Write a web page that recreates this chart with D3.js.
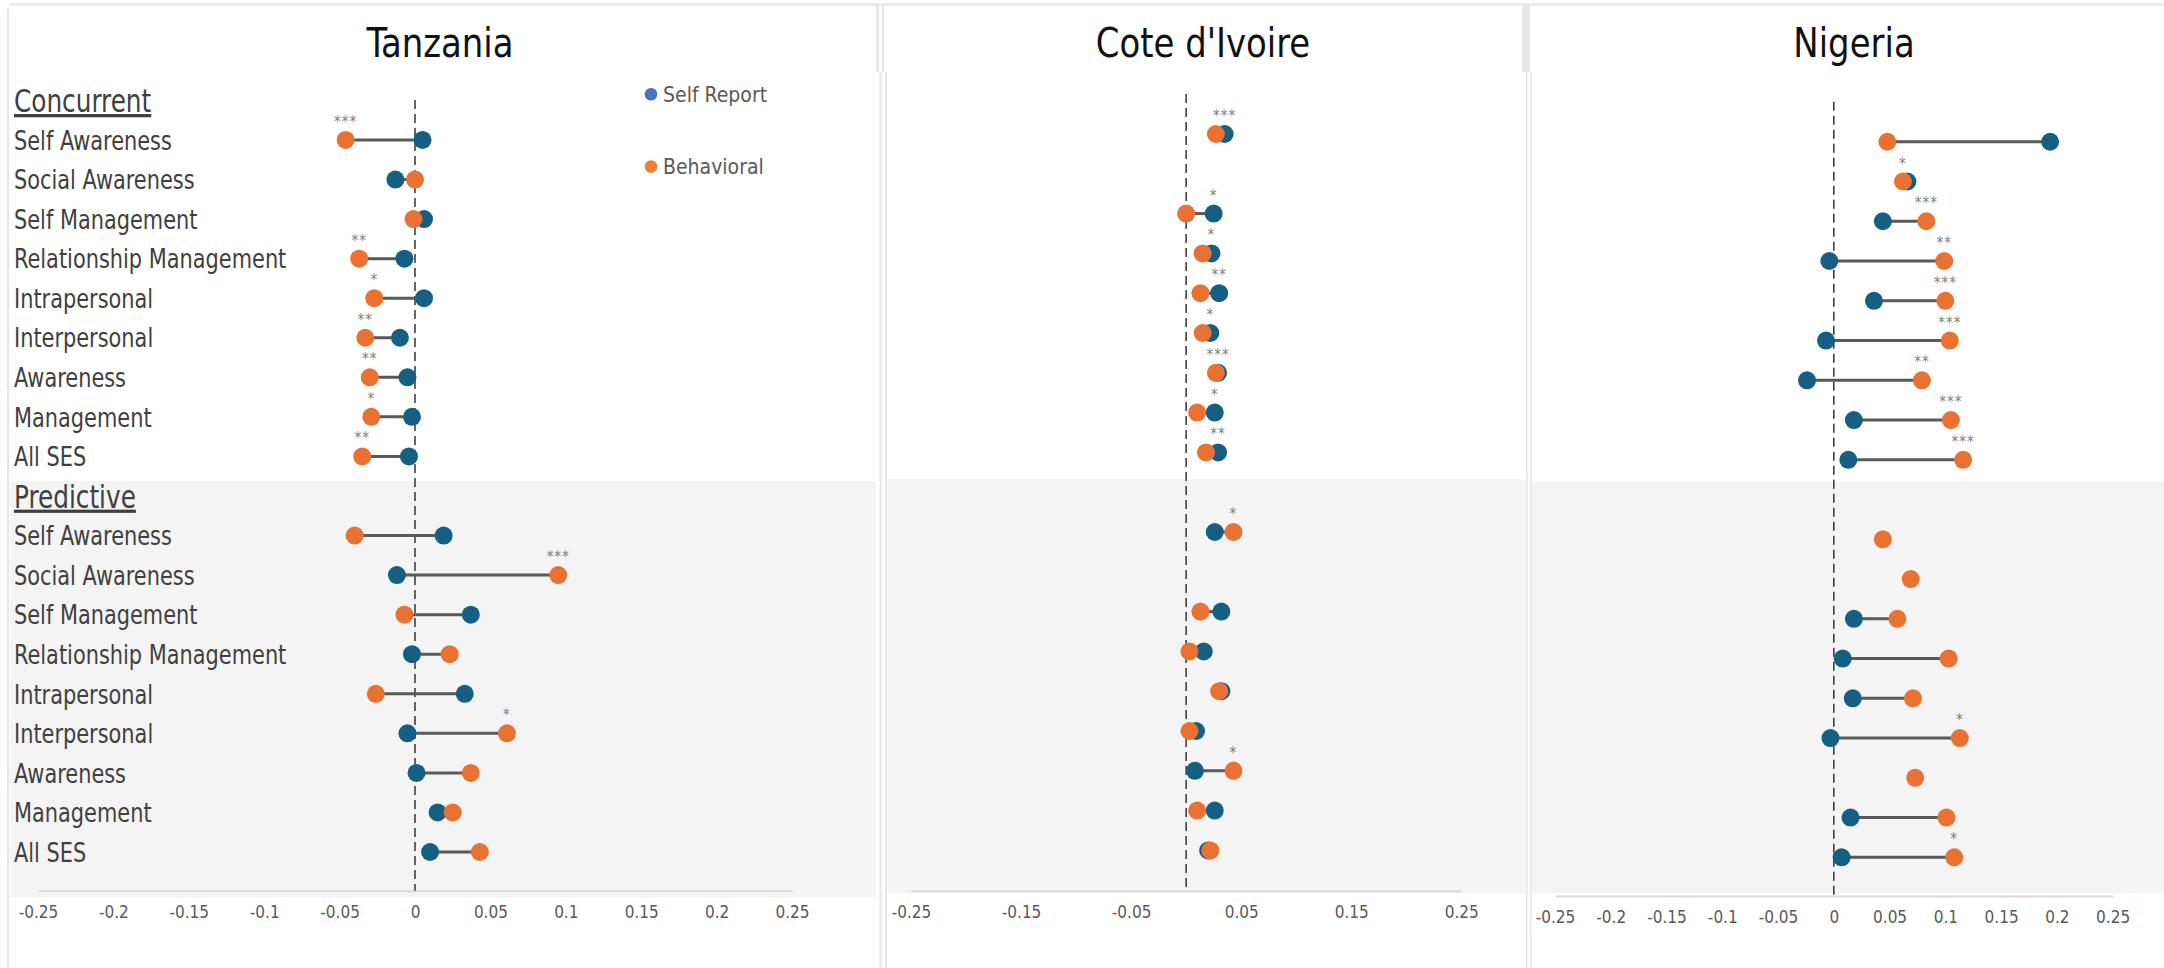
<!DOCTYPE html>
<html>
<head>
<meta charset="utf-8">
<script src="https://cdn.jsdelivr.net/npm/d3@7"></script>
<style>
  html, body { margin: 0; padding: 0; background: #ffffff; }
  svg { display: block; }
  text { font-family: "Liberation Sans Narrow", "DejaVu Sans Condensed", "Liberation Sans", sans-serif; }
</style>
</head>
<body>
<svg id="chart" width="2164" height="968"></svg>
<script>
// ---- data -------------------------------------------------------------
const countries = ["Tanzania", "Cote d'Ivoire", "Nigeria"];
const sections = ["Concurrent", "Predictive"];
const categories = [
  "Self Awareness", "Social Awareness", "Self Management",
  "Relationship Management", "Intrapersonal", "Interpersonal",
  "Awareness", "Management", "All SES"
];
const seriesNames = ["Self Report", "Behavioral"];

// Tanzania
const tzConcSelf  = [0.005, -0.013, 0.006, -0.007, 0.006, -0.010, -0.005, -0.002, -0.004];
const tzConcBeh   = [-0.046, 0.000, -0.001, -0.037, -0.027, -0.033, -0.030, -0.029, -0.035];
const tzConcStars = ["***", "", "", "**", "*", "**", "**", "*", "**"];
const tzPredSelf  = [0.019, -0.012, 0.037, -0.002, 0.033, -0.005, 0.001, 0.015, 0.010];
const tzPredBeh   = [-0.040, 0.095, -0.007, 0.023, -0.026, 0.061, 0.037, 0.025, 0.043];
const tzPredStars = ["", "***", "", "", "", "*", "", "", ""];

// Cote d'Ivoire
const ciConcSelf  = [0.035, null, 0.025, 0.023, 0.030, 0.022, 0.029, 0.026, 0.029];
const ciConcBeh   = [0.027, null, 0.000, 0.015, 0.013, 0.015, 0.027, 0.010, 0.018];
const ciConcStars = ["***", "", "*", "*", "**", "*", "***", "*", "**"];
const ciPredSelf  = [0.026, null, 0.032, 0.016, 0.032, 0.009, 0.008, 0.026, 0.020];
const ciPredBeh   = [0.043, null, 0.013, 0.003, 0.030, 0.003, 0.043, 0.010, 0.022];
const ciPredStars = ["*", "", "", "", "", "", "*", "", ""];

// Nigeria
const ngConcSelf  = [0.194, 0.066, 0.044, -0.004, 0.036, -0.007, -0.024, 0.018, 0.013];
const ngConcBeh   = [0.048, 0.062, 0.083, 0.099, 0.100, 0.104, 0.079, 0.105, 0.116];
const ngConcStars = ["", "*", "***", "**", "***", "***", "**", "***", "***"];
const ngPredSelf  = [null, null, 0.018, 0.008, 0.017, -0.003, null, 0.015, 0.007];
const ngPredBeh   = [0.044, 0.069, 0.057, 0.103, 0.071, 0.113, 0.073, 0.101, 0.108];
const ngPredStars = ["", "", "", "", "", "*", "", "", "*"];

// which dot the significance stars sit above, per country and section
const starAnchor = [["beh", "beh"], ["self", "beh"], ["beh", "beh"]];

const ticksFine   = [-0.25, -0.2, -0.15, -0.1, -0.05, 0, 0.05, 0.1, 0.15, 0.2, 0.25];
const ticksCoarse = [-0.25, -0.15, -0.05, 0.05, 0.15, 0.25];

// ---- assemble rows ----------------------------------------------------
const tables = [
  [[tzConcSelf, tzConcBeh, tzConcStars], [tzPredSelf, tzPredBeh, tzPredStars]],
  [[ciConcSelf, ciConcBeh, ciConcStars], [ciPredSelf, ciPredBeh, ciPredStars]],
  [[ngConcSelf, ngConcBeh, ngConcStars], [ngPredSelf, ngPredBeh, ngPredStars]]
];

// panel geometry
const panels = [
  { xr: [38, 792],    slots: [100.4, 852],  zeroTop: 100, axisY: 890.7, band: [10, 481, 876, 897],
    ticks: ticksFine, titleX: 440, labels: true },
  { xr: [911, 1461.3], slots: [94.2, 850.4], zeroTop: 94, axisY: 890.7, band: [887.5, 479.3, 1526, 893.3],
    ticks: ticksCoarse, titleX: 1203, labels: false },
  { xr: [1555, 2112.6], slots: [102, 857.3], zeroTop: 101.7, axisY: 896, band: [1531, 481.7, 2164, 893.3],
    ticks: ticksFine, titleX: 1854, labels: false }
];

const COL_SELF = "#156082", COL_BEH = "#E97132";
const LEG_SELF = "#4472C4", LEG_BEH = "#ED7D31";
const BORDER = "#e6e6e6";
const SQUEEZE = 0.86;   // horizontal compression applied to label text

const svg = d3.select("#chart");

// slot keys: section header, then its nine categories, for both sections
const slotKeys = [];
sections.forEach((s, si) => {
  slotKeys.push("h" + si);
  categories.forEach((c, ci) => slotKeys.push(si + "-" + ci));
});

// ---- frame ------------------------------------------------------------
svg.append("rect").attr("x", 10).attr("y", 3).attr("width", 2154).attr("height", 3).attr("fill", "#ebebeb");

panels.forEach((p, pi) => {
  svg.append("rect")
    .attr("x", p.band[0]).attr("y", p.band[1])
    .attr("width", p.band[2] - p.band[0]).attr("height", p.band[3] - p.band[1])
    .attr("fill", "#f4f4f4");
});

// panel edges
const edges = svg.append("g").attr("fill", BORDER);
edges.append("rect").attr("x", 7).attr("y", 9).attr("width", 2).attr("height", 959);
edges.append("rect").attr("x", 876).attr("y", 6).attr("width", 3).attr("height", 66);
edges.append("rect").attr("x", 882).attr("y", 6).attr("width", 2).attr("height", 66);
edges.append("rect").attr("x", 879.5).attr("y", 72).attr("width", 2).attr("height", 896);
edges.append("rect").attr("x", 885).attr("y", 72).attr("width", 2).attr("height", 896);
edges.append("rect").attr("x", 1522).attr("y", 6).attr("width", 8).attr("height", 66);
edges.append("rect").attr("x", 1526).attr("y", 72).attr("width", 1.6).attr("height", 896);
edges.append("rect").attr("x", 1530).attr("y", 72).attr("width", 1.6).attr("height", 896);

// ---- panels -----------------------------------------------------------
panels.forEach((p, pi) => {
  const g = svg.append("g");
  const x = d3.scaleLinear().domain([-0.25, 0.25]).range(p.xr);
  const y = d3.scalePoint().domain(slotKeys).range(p.slots);

  // title
  g.append("text")
    .attr("transform", `translate(${p.titleX},42) scale(0.92,1)`)
    .attr("dy", "0.36em")
    .attr("text-anchor", "middle")
    .attr("font-size", 41).attr("fill", "#111")
    .text(countries[pi]);

  // x axis
  const axis = d3.axisBottom(x)
    .tickValues(p.ticks)
    .tickSize(0).tickSizeOuter(0).tickPadding(15)
    .tickFormat(d => String(+d.toFixed(2)));
  const ag = g.append("g").attr("transform", `translate(0,${p.axisY})`).call(axis);
  ag.select(".domain").attr("stroke", "#d9d9d9").attr("stroke-width", 2);
  ag.selectAll("text").attr("font-size", 17).attr("fill", "#595959")
    .style("font-family", "'Liberation Sans Narrow','DejaVu Sans Condensed',sans-serif");

  // zero reference
  g.append("line")
    .attr("x1", x(0)).attr("x2", x(0))
    .attr("y1", p.zeroTop).attr("y2", p.axisY)
    .attr("stroke", "#404040").attr("stroke-width", 1.6)
    .attr("stroke-dasharray", "9,5");

  // row labels
  if (p.labels) {
    sections.forEach((s, si) => {
      g.append("text")
        .attr("transform", `translate(14,${y("h" + si)}) scale(${SQUEEZE},1)`)
        .attr("dy", "0.36em")
        .attr("font-size", 32).attr("fill", "#404040")
        .style("text-decoration", "underline")
        .text(s);
      categories.forEach((c, ci) => {
        g.append("text")
          .attr("transform", `translate(14,${y(si + "-" + ci)}) scale(${SQUEEZE},1)`)
          .attr("dy", "0.36em")
          .attr("font-size", 27).attr("fill", "#404040")
          .text(c);
      });
    });
  }

  // rows for this country
  const rows = [];
  sections.forEach((s, si) => {
    const [selfV, behV, stars] = tables[pi][si];
    categories.forEach((c, ci) => {
      rows.push({
        key: si + "-" + ci, self: selfV[ci], beh: behV[ci],
        stars: stars[ci], anchor: starAnchor[pi][si]
      });
    });
  });

  // connectors
  g.selectAll(".conn").data(rows.filter(r => r.self != null && r.beh != null))
    .join("line").attr("class", "conn")
    .attr("x1", r => x(r.self)).attr("x2", r => x(r.beh))
    .attr("y1", r => y(r.key)).attr("y2", r => y(r.key))
    .attr("stroke", "#595959").attr("stroke-width", 3);

  // self-report dots
  g.selectAll(".dself").data(rows.filter(r => r.self != null))
    .join("circle").attr("class", "dself")
    .attr("cx", r => x(r.self)).attr("cy", r => y(r.key)).attr("r", 9)
    .attr("fill", COL_SELF);

  // behavioral dots
  g.selectAll(".dbeh").data(rows.filter(r => r.beh != null))
    .join("circle").attr("class", "dbeh")
    .attr("cx", r => x(r.beh)).attr("cy", r => y(r.key)).attr("r", 9)
    .attr("fill", COL_BEH);

  // significance stars
  g.selectAll(".stars").data(rows.filter(r => r.stars))
    .join("text").attr("class", "stars")
    .attr("x", r => x(r.anchor === "self" ? r.self : r.beh))
    .attr("y", r => y(r.key) - 13)
    .attr("text-anchor", "middle")
    .attr("font-size", 15).attr("letter-spacing", 1)
    .attr("fill", "#7f7f7f")
    .text(r => r.stars);
});

// ---- legend -----------------------------------------------------------
const leg = svg.append("g");
const legendY = [94.3, 166.5];
[LEG_SELF, LEG_BEH].forEach((col, i) => {
  leg.append("circle").attr("cx", 651).attr("cy", legendY[i]).attr("r", 6.3).attr("fill", col);
  leg.append("text")
    .attr("x", 663).attr("y", legendY[i]).attr("dy", "0.36em")
    .attr("font-size", 21).attr("fill", "#595959")
    .text(seriesNames[i]);
});
</script>
</body>
</html>
